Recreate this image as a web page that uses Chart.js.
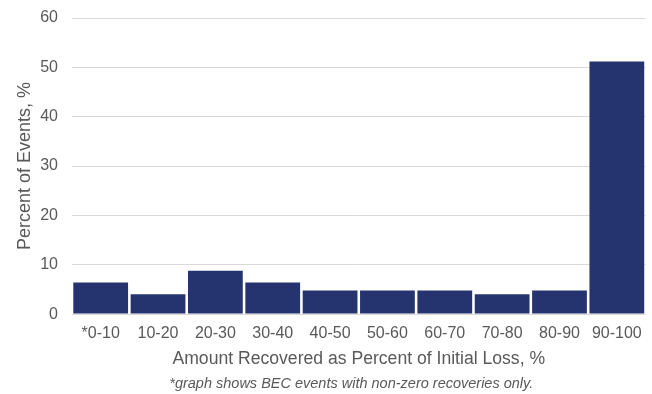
<!DOCTYPE html>
<html>
<head>
<meta charset="utf-8">
<script src="https://cdn.jsdelivr.net/npm/chart.js@4/dist/chart.umd.min.js"></script>
<style>
  html, body { margin: 0; padding: 0; background: #ffffff; }
  #wrap { width: 652px; height: 394px; }
</style>
</head>
<body>
<div id="wrap"><canvas id="chart" width="652" height="394"></canvas></div>
<script>
// Recovery buckets (share of events, %)
const categories = ['*0-10', '10-20', '20-30', '30-40', '40-50', '50-60', '60-70', '70-80', '80-90', '90-100'];
const percentOfEvents = [6.4, 4.0, 8.8, 6.4, 4.8, 4.8, 4.8, 4.0, 4.8, 51.2];
const yTicks = [0, 10, 20, 30, 40, 50, 60];
const footnote = '*graph shows BEC events with non-zero recoveries only.';

const textColor = '#595959';
const fontFamily = '"Liberation Sans", Arial, sans-serif';
const footnoteSize = 14.5;

// Italic note under the x-axis title, slightly left of the plot centre
const footnotePlugin = {
  id: 'footnote',
  afterDraw(chart) {
    const { ctx, chartArea, scales } = chart;
    ctx.save();
    ctx.font = `italic ${footnoteSize}px ${fontFamily}`;
    ctx.fillStyle = textColor;
    ctx.textAlign = 'center';
    ctx.textBaseline = 'middle';
    const x = (chartArea.left + chartArea.right) / 2 - 7.5;
    const y = scales.x.bottom + 6 + footnoteSize * 1.2 / 2;
    ctx.fillText(footnote, x, y);
    ctx.restore();
  }
};

new Chart(document.getElementById('chart'), {
  type: 'bar',
  data: {
    labels: categories,
    datasets: [{
      data: percentOfEvents,
      backgroundColor: '#25346f',
      borderWidth: 0,
      barPercentage: 0.955,
      categoryPercentage: 1.0
    }]
  },
  plugins: [footnotePlugin],
  options: {
    responsive: false,
    devicePixelRatio: 1,
    animation: false,
    layout: { padding: { left: 14, right: 5, top: 0, bottom: 1 + 6 + footnoteSize * 1.2 } },
    plugins: {
      legend: { display: false },
      tooltip: { enabled: false }
    },
    scales: {
      x: {
        grid: { display: false, drawTicks: false },
        border: { display: false },
        afterFit: (scale) => { scale.height = 55.5; },
        ticks: {
          color: textColor,
          font: { family: fontFamily, size: 16 },
          padding: 10,
          maxRotation: 0,
          autoSkip: false
        },
        title: {
          display: true,
          text: 'Amount Recovered as Percent of Initial Loss, %',
          color: textColor,
          font: { family: fontFamily, size: 17.6 },
          padding: { top: 5, bottom: 0 }
        }
      },
      y: {
        min: yTicks[0],
        max: yTicks[yTicks.length - 1],
        afterBuildTicks: (axis) => { axis.ticks = yTicks.map(v => ({ value: v })); },
        afterFit: (scale) => {
          scale.width = 58;
          scale.paddingTop = 18;
          scale.paddingBottom = 0;
        },
        grid: { color: '#d9d9d9', lineWidth: 1, drawTicks: false },
        border: { display: false },
        ticks: {
          color: textColor,
          font: { family: fontFamily, size: 16 },
          padding: 14
        },
        title: {
          display: true,
          text: 'Percent of Events, %',
          color: textColor,
          font: { family: fontFamily, size: 18 },
          padding: { top: 0, bottom: 4 }
        }
      }
    }
  }
});
</script>
</body>
</html>
